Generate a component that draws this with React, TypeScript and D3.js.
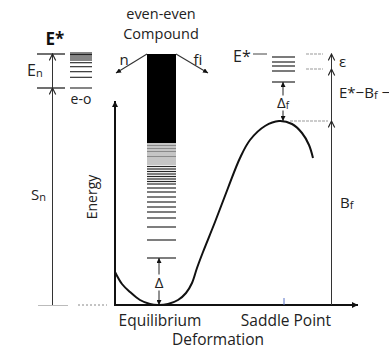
import React from "react";
import * as d3 from "d3";

// Energy (px-scaled units above ground state) and deformation values
const E_STAR = 251;
const S_N = 217;
const B_F = 184;
const DELTA = 47;
const DELTA_F = 39;
const EPS_LEVELS = [251, 236];

// odd-even level ladder next to the neutron-capture column
const eoLevels = [252, 250.5, 249, 247, 245, 242.3, 238.3, 233.3, 227.7, 217];

// compound nucleus: continuum band and discrete levels
const continuumBand = [162, 251];
const compoundLevels = [
  161, 159.5, 158, 156.5, 155, 153.5, 152, 150, 148.5, 147, 145, 143, 141, 138.5,
  136, 133.5, 131, 128.5, 126, 123.5, 121, 117, 113, 108, 103, 98, 93, 87, 78, 65, 47,
];

// transition-state levels above the saddle
const saddleLevels = [223, 234, 239, 243, 248];

// fission barrier along the deformation coordinate
const barrierDef = [0, 7, 15, 25, 35, 43, 53, 63, 71, 77, 82, 88, 100, 113, 125, 135, 150, 164, 177, 187, 194, 198];
const barrierEnergy = [33, 21, 13, 5, 1, 0, 1, 5, 12, 22, 37, 53, 83, 117, 147, 165, 179, 184, 181, 172, 160, 147];

const SADDLE_DEF = 168;

const X = d3.scaleLinear().domain([0, 243]).range([115, 358]);
const Y = d3.scaleLinear().domain([0, 252]).range([305, 53]);

const font = "'Open Sans', sans-serif";

export default function App() {
  const barrierPath = d3
    .line<number>()
    .x((_, i) => X(barrierDef[i]))
    .y((d) => Y(d))
    .curve(d3.curveCatmullRom.alpha(0.5))(barrierEnergy) as string;

  const y0 = Y(0);
  const leftX = 52.5;
  const colL = 147;
  const colR = 176;
  const bfX = 331.5;
  const saddleX = X(SADDLE_DEF);
  const gapMid = Y(DELTA / 2);
  const gapFMid = Y(B_F + DELTA_F / 2);

  return (
    <svg
      width={389}
      height={349}
      style={{ position: "absolute", left: 0, top: 0, background: "#fff" }}
      fontFamily={font}
    >
      <defs>
        <marker id="tri" viewBox="0 0 10 10" refX="10" refY="5" markerWidth="7" markerHeight="6" markerUnits="userSpaceOnUse" orient="auto">
          <path d="M0,0 L10,5 L0,10 z" fill="#111" />
        </marker>
        <marker id="triS" viewBox="0 0 10 10" refX="10" refY="5" markerWidth="5" markerHeight="5" markerUnits="userSpaceOnUse" orient="auto">
          <path d="M0,0 L10,5 L0,10 z" fill="#111" />
        </marker>
        <marker id="chev" viewBox="0 0 10 10" refX="9" refY="5" markerWidth="8" markerHeight="8" markerUnits="userSpaceOnUse" orient="auto">
          <path d="M1,1 L9,5 L1,9" fill="none" stroke="#222" strokeWidth="1.4" />
        </marker>
      </defs>

      {/* top caption */}
      <text x={161} y={19} fontSize={14.5} textAnchor="middle" fill="#222">even-even</text>
      <text x={161} y={39} fontSize={14.5} textAnchor="middle" fill="#222">Compound</text>
      <text x={124} y={65} fontSize={15} textAnchor="middle" fill="#222">n</text>
      <text x={198} y={65} fontSize={15} textAnchor="middle" fill="#222">fi</text>

      {/* neutron separation / excitation column */}
      <text x={55} y={45} fontSize={17} fontWeight="bold" textAnchor="middle" fill="#111">E*</text>
      <line x1={37} x2={65} y1={Y(E_STAR)} y2={Y(E_STAR)} stroke="#222" strokeWidth={1.3} />
      <line x1={37} x2={65} y1={Y(S_N)} y2={Y(S_N)} stroke="#222" strokeWidth={1.3} />
      <line x1={leftX} x2={leftX} y1={y0} y2={Y(S_N)} stroke="#333" strokeWidth={1} markerEnd="url(#chev)" />
      <line x1={leftX} x2={leftX} y1={Y(S_N)} y2={Y(E_STAR)} stroke="#333" strokeWidth={1} markerEnd="url(#chev)" />
      <text x={27} y={76} fontSize={16} fill="#222">
        E<tspan fontSize={11} dy={1}>n</tspan>
      </text>
      <text x={31} y={200} fontSize={15} fill="#222">
        S<tspan fontSize={11} dy={1}>n</tspan>
      </text>
      {eoLevels.map((e, i) => (
        <line key={i} x1={70} x2={92} y1={Y(e)} y2={Y(e)} stroke="#222" strokeWidth={1.1} />
      ))}
      <text x={81} y={104} fontSize={14} textAnchor="middle" fill="#222">e-o</text>
      <line x1={38} x2={68} y1={y0 + 0.5} y2={y0 + 0.5} stroke="#bbb" strokeWidth={1} />
      <line x1={78} x2={107} y1={y0} y2={y0} stroke="#888" strokeWidth={1} strokeDasharray="2,2" />

      <text transform={`translate(97,197) rotate(-90)`} fontSize={14} textAnchor="middle" fill="#222">Energy</text>

      {/* axes */}
      <line x1={X(0)} x2={X(0)} y1={y0 + 1} y2={101} stroke="#111" strokeWidth={2} markerEnd="url(#tri)" />
      <line x1={X(0)} x2={358} y1={y0} y2={y0} stroke="#111" strokeWidth={2} markerEnd="url(#tri)" />
      <line x1={284} x2={284} y1={298} y2={y0} stroke="#5a74c8" strokeWidth={1} />

      {/* compound nucleus levels */}
      <rect x={colL} width={colR - colL} y={Y(continuumBand[1])} height={Y(continuumBand[0]) - Y(continuumBand[1])} fill="#000" />
      {compoundLevels.map((e, i) => (
        <line
          key={i}
          x1={colL}
          x2={colR}
          y1={Y(e)}
          y2={Y(e)}
          stroke="#111"
          strokeWidth={e > 140 ? 0.9 : 1.2}
          strokeOpacity={e > 140 ? 0.55 : 0.9}
        />
      ))}
      <line x1={colL} y1={Y(continuumBand[1])} x2={116} y2={73} stroke="#333" strokeWidth={1.1} markerEnd="url(#triS)" />
      <line x1={colR} y1={Y(continuumBand[1])} x2={208} y2={73} stroke="#333" strokeWidth={1.1} markerEnd="url(#triS)" />

      {/* pairing gap */}
      <line x1={159} x2={159} y1={gapMid - 7} y2={Y(DELTA)} stroke="#222" strokeWidth={1} markerEnd="url(#triS)" />
      <line x1={159} x2={159} y1={gapMid + 9} y2={y0} stroke="#222" strokeWidth={1} markerEnd="url(#triS)" />
      <text x={159} y={gapMid + 6} fontSize={15} textAnchor="middle" fill="#222">Δ</text>

      {/* fission barrier */}
      <path d={barrierPath} fill="none" stroke="#111" strokeWidth={2} />

      {/* transition states above the saddle */}
      <text x={233} y={62} fontSize={16} fill="#222">E*</text>
      <line x1={253} x2={267} y1={Y(E_STAR)} y2={Y(E_STAR)} stroke="#444" strokeWidth={1} />
      {saddleLevels.map((e, i) => (
        <line key={i} x1={272} x2={295} y1={Y(e)} y2={Y(e)} stroke="#222" strokeWidth={1.2} />
      ))}
      <line x1={saddleX} x2={saddleX} y1={gapFMid - 6} y2={Y(B_F + DELTA_F)} stroke="#222" strokeWidth={1} markerEnd="url(#triS)" />
      <line x1={saddleX} x2={saddleX} y1={gapFMid + 9} y2={Y(B_F)} stroke="#222" strokeWidth={1} markerEnd="url(#triS)" />
      <text x={saddleX - 6} y={gapFMid + 6} fontSize={15} fill="#222">
        Δ<tspan fontSize={10} dy={1}>f</tspan>
      </text>

      {/* barrier height and excess energy */}
      {EPS_LEVELS.map((e, i) => (
        <line key={i} x1={306} x2={323} y1={Y(e)} y2={Y(e)} stroke="#999" strokeWidth={1} strokeDasharray="3,1" />
      ))}
      <line x1={290} x2={328} y1={Y(B_F)} y2={Y(B_F)} stroke="#999" strokeWidth={1} strokeDasharray="3,1" />
      <line x1={bfX} x2={bfX} y1={y0} y2={Y(B_F)} stroke="#333" strokeWidth={1} markerEnd="url(#chev)" />
      <line x1={bfX} x2={bfX} y1={Y(B_F)} y2={Y(EPS_LEVELS[1])} stroke="#333" strokeWidth={1} markerEnd="url(#chev)" />
      <line x1={bfX} x2={bfX} y1={Y(EPS_LEVELS[1])} y2={Y(EPS_LEVELS[0])} stroke="#333" strokeWidth={1} markerEnd="url(#chev)" />
      <text x={339} y={67} fontSize={15} fill="#222">ε</text>
      <text x={339} y={98} fontSize={15} fill="#222">
        E*−B<tspan fontSize={11} dy={1}>f</tspan>
        <tspan dy={-1}> −</tspan>
      </text>
      <text x={340} y={208} fontSize={15} fill="#222">
        B<tspan fontSize={11} dy={1}>f</tspan>
      </text>

      {/* axis labels */}
      <text x={160} y={326} fontSize={15.5} textAnchor="middle" fill="#222">Equilibrium</text>
      <text x={286} y={326} fontSize={15.5} textAnchor="middle" fill="#222">Saddle Point</text>
      <text x={218} y={345} fontSize={15.5} textAnchor="middle" fill="#222">Deformation</text>
    </svg>
  );
}
